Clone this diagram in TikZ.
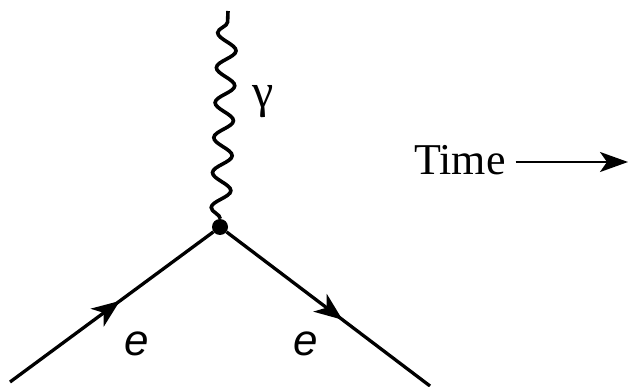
\documentclass[tikz,border=0pt]{standalone}
\usepackage{fontspec}
\setmainfont{Liberation Serif}
\newfontfamily\labelsans{Liberation Sans}
\usetikzlibrary{decorations.pathmorphing,decorations.markings,arrows.meta}
\begin{document}
\begin{tikzpicture}[x=1pt,y=-1pt,
  fermion/.style={line width=3.3pt,postaction={decorate},
    decoration={markings,mark=at position #1 with {\arrow{Stealth[length=28pt,width=22pt,inset=8pt]}}}},
  photon/.style={line width=3.6pt,decorate,
    decoration={snake,segment length=35pt,amplitude=9.5pt}},
  lbl/.style={inner sep=0pt,anchor=base}]
\useasboundingbox (0,0) rectangle (628,387);
\node[circle,fill=black,inner sep=0pt,minimum size=16pt] (v) at (220,227) {};
\coordinate (a) at (10,382);
\coordinate (b) at (430,386);
\coordinate (t) at (228,11);
\draw[fermion=0.54] (a) -- (v);
\draw[fermion=0.57] (v) -- (b);
\draw[photon] (v) -- (t);
\node[lbl,font=\fontsize{48}{48}\selectfont] (g) at (263,108) {γ};
\node[lbl,font=\labelsans\itshape\fontsize{44}{44}\selectfont] (e1) at (137,355) {e};
\node[lbl,font=\labelsans\itshape\fontsize{44}{44}\selectfont] (e2) at (306,355) {e};
\node[lbl,anchor=base west,font=\fontsize{44}{44}\selectfont] (time) at (414,175) {Time};
\coordinate (tend) at (628,162);
\draw[line width=2.4pt,-{Stealth[length=28pt,width=20pt,inset=7pt]}] (time.east|-tend) ++(10,0) -- (tend);
\end{tikzpicture}
\end{document}
